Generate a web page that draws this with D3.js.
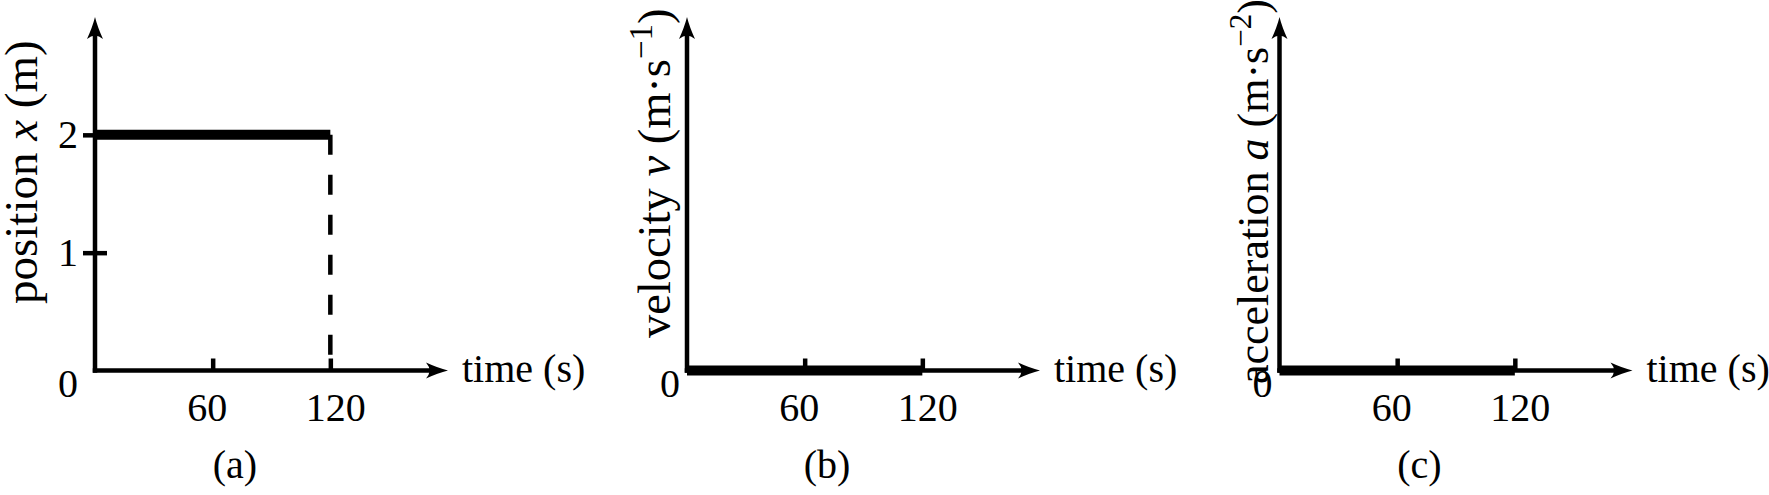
<!DOCTYPE html>
<html><head><meta charset="utf-8">
<script src="https://cdn.jsdelivr.net/npm/d3@7"></script>
<style>
body{margin:0;background:#fff;}
svg text{font-family:"Liberation Serif","Times New Roman",serif;fill:#000;}
</style>
</head><body>
<svg id="chart" width="1769" height="495"></svg>
<script>
// ---- data ----
const timeTicks = [60, 120];
const timeDomain = [0, 180];
const valueDomain = [0, 3];
const positionTime = [0, 120];
const positionValues = [2, 2];
const velocityTime = [0, 120];
const velocityValues = [0, 0];
const accelerationTime = [0, 120];
const accelerationValues = [0, 0];
const positionTicks = [1, 2];
const panelLetters = ["(a)", "(b)", "(c)"];
const xAxisTitle = "time (s)";
const yTitlePosition = [{t:"position "},{t:"x",i:1},{t:" (m)"}];
const yTitleVelocity = [{t:"velocity "},{t:"v",i:1},{t:" (m·s"},{t:"−1",sup:1},{t:")"}];
const yTitleAcceleration = [{t:"acceleration "},{t:"a",i:1},{t:" (m·s"},{t:"−2",sup:1},{t:")"}];

// ---- layout ----
const svg = d3.select("#chart");
const FONT = '"Liberation Serif","Times New Roman",serif';
const panelX = [95, 687, 1279.5];
const originY = 370.5, topY = 17, xLen = 353;
const AX_W = 4.5;
const titleCfg = [{dx:-58, bottom:304, size:47},{dx:-17, bottom:338, size:46.5},{dx:-11.5, bottom:384, size:44}];
const zeroDx = [-17, -7, -7];

const panels = [
  {time: positionTime, values: positionValues, title: yTitlePosition, yticks: positionTicks, dashed: true},
  {time: velocityTime, values: velocityValues, title: yTitleVelocity, yticks: [], dashed: false},
  {time: accelerationTime, values: accelerationValues, title: yTitleAcceleration, yticks: [], dashed: false}
];

const arrowPath = "M0,0 Q-10,-2.5 -22,-8 Q-15,0 -22,8 Q-10,2.5 0,0 Z";

panels.forEach((p, i) => {
  const ox = panelX[i];
  const x = d3.scaleLinear().domain(timeDomain).range([ox, ox + xLen]);
  const y = d3.scaleLinear().domain(valueDomain).range([originY, topY]);
  const g = svg.append("g");

  // x axis ticks (inward) + labels
  const xa = d3.axisBottom(x).tickValues(timeTicks).tickFormat(d3.format("d"))
    .tickSizeInner(-12).tickSizeOuter(0).tickPadding(22);
  const gx = g.append("g").attr("transform", `translate(0,${originY})`).call(xa);
  gx.select(".domain").remove();
  gx.attr("font-size", 40).attr("font-family", FONT);
  gx.selectAll(".tick line").attr("stroke", "#000").attr("stroke-width", AX_W);
  gx.selectAll(".tick text").attr("fill", "#000").attr("dx", (d, j) => [-6, 5][j]);

  // y axis ticks (panel a)
  if (p.yticks.length) {
    const ya = d3.axisLeft(y).tickValues(p.yticks).tickFormat(d3.format("d")).tickSize(12).tickPadding(5);
    const gy = g.append("g").attr("transform", `translate(${ox},0)`).call(ya);
    gy.select(".domain").remove();
    gy.attr("font-size", 40).attr("font-family", FONT);
    gy.selectAll(".tick line").attr("stroke", "#000").attr("stroke-width", AX_W).attr("x1", 12).attr("x2", -12);
    gy.selectAll(".tick text").attr("fill", "#000");
  }

  // axis lines
  g.append("line").attr("x1", ox).attr("x2", ox).attr("y1", originY + AX_W/2).attr("y2", topY + 10)
    .attr("stroke", "#000").attr("stroke-width", AX_W);
  g.append("line").attr("x1", ox - AX_W/2).attr("x2", x(timeDomain[1]) - 10).attr("y1", originY).attr("y2", originY)
    .attr("stroke", "#000").attr("stroke-width", AX_W);
  g.append("path").attr("d", arrowPath).attr("transform", `translate(${x(timeDomain[1])},${originY})`).attr("fill", "#000");
  g.append("path").attr("d", arrowPath).attr("transform", `translate(${ox},${topY}) rotate(-90)`).attr("fill", "#000");

  // data line
  const pts = p.time.map((t, k) => [t, p.values[k]]);
  const line = d3.line().x(d => x(d[0])).y(d => y(d[1]));
  g.append("path").attr("d", line(pts)).attr("fill", "none").attr("stroke", "#000").attr("stroke-width", 10);

  if (p.dashed) {
    const last = pts[pts.length - 1];
    g.append("path").attr("d", line([last, [last[0], 0]])).attr("fill", "none")
      .attr("stroke", "#000").attr("stroke-width", AX_W).attr("stroke-dasharray", "20,20");
  }

  // zero label
  g.append("text").attr("x", ox + zeroDx[i]).attr("y", originY + 26.5).attr("text-anchor", "end")
    .attr("font-size", 40).text("0");

  // x title
  g.append("text").attr("x", ox + 367).attr("y", originY + 11.5).attr("font-size", 40).text(xAxisTitle);

  // panel letter
  g.append("text").attr("x", ox + 140).attr("y", 478).attr("text-anchor", "middle").attr("font-size", 40).text(panelLetters[i]);

  // y title
  const tc = titleCfg[i];
  const bx = ox + tc.dx;
  const yt = g.append("text").attr("transform", `translate(${bx},${tc.bottom}) rotate(-90)`)
    .attr("text-anchor", "start").attr("font-size", tc.size);
  let raised = false;
  const supShift = Math.round(tc.size * 0.38);
  p.title.forEach(s => {
    const ts = yt.append("tspan").text(s.t);
    if (s.i) ts.attr("font-style", "italic");
    if (s.sup) { ts.attr("font-size", Math.round(tc.size * 0.7)).attr("dy", -supShift); raised = true; }
    else if (raised) { ts.attr("dy", supShift); raised = false; }
  });
});
</script>
</body></html>
